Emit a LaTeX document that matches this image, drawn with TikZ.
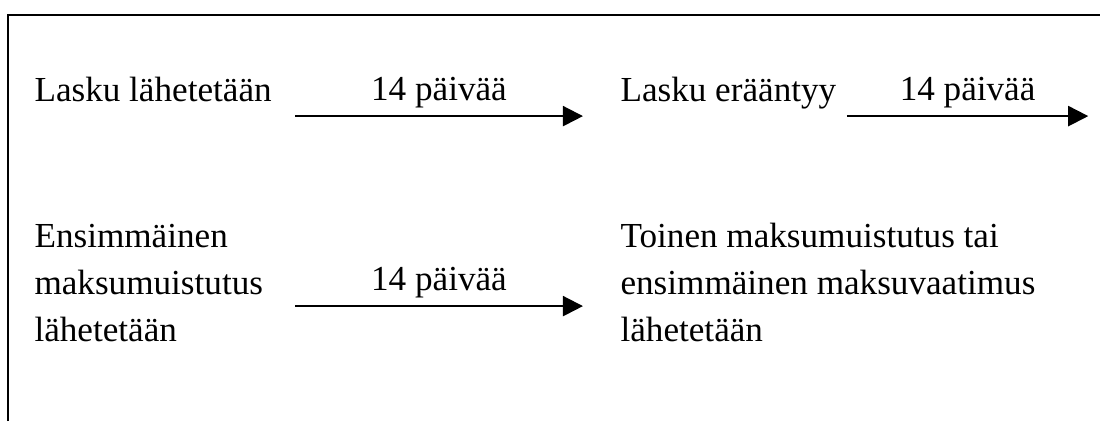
\documentclass[tikz,border=0pt]{standalone}
\usepackage{fontspec}
\setmainfont{Liberation Serif}
\usetikzlibrary{arrows.meta}
\tikzset{
	txt/.style={anchor=base west, inner sep=0pt},
	arr/.style={-{Triangle[length=7.3pt,width=7.3pt]}, line width=0.75pt},
	lbl/.style={midway, anchor=base, yshift=5.5pt, inner sep=0pt}
}
\begin{document}
\begin{tikzpicture}[font=\fontsize{12.8}{17.1}\selectfont]
%	\draw[help lines] (0,0) grid (14,5);
	\useasboundingbox (0,0) rectangle (14.08,5.39);
	\draw[line width=0.8pt] (0.10,0) -- (0.10,5.20) -- (14.08,5.20);
	\node[txt] (sent) at (0.435,4.096) {Lasku lähetetään};
	\node[txt] (due) at (7.936,4.096) {Lasku erääntyy};
	\node[txt] (first) at (0.435,2.227) {\begin{tabular}[t]{@{}l@{}} Ensimmäinen \\ maksumuistutus \\ lähetetään \end{tabular}};
	\node[txt] (second) at (7.936,2.227) {\begin{tabular}[t]{@{}l@{}} Toinen maksumuistutus tai \\ ensimmäinen maksuvaatimus \\ lähetetään \end{tabular}};
	\coordinate (a1s) at (3.776,3.904);
	\coordinate (a1e) at (7.462,3.904);
	\coordinate (a2s) at (10.84,3.904);
	\coordinate (a2e) at (13.93,3.904);
	\coordinate (a3s) at (3.776,1.472);
	\coordinate (a3e) at (7.462,1.472);
	\draw[arr] (a1s) -- node[lbl] (d1) {14 päivää} (a1e);
	\draw[arr] (a2s) -- node[lbl] (d2) {14 päivää} (a2e);
	\draw[arr] (a3s) -- node[lbl] (d3) {14 päivää} (a3e);
\end{tikzpicture}
\end{document}
